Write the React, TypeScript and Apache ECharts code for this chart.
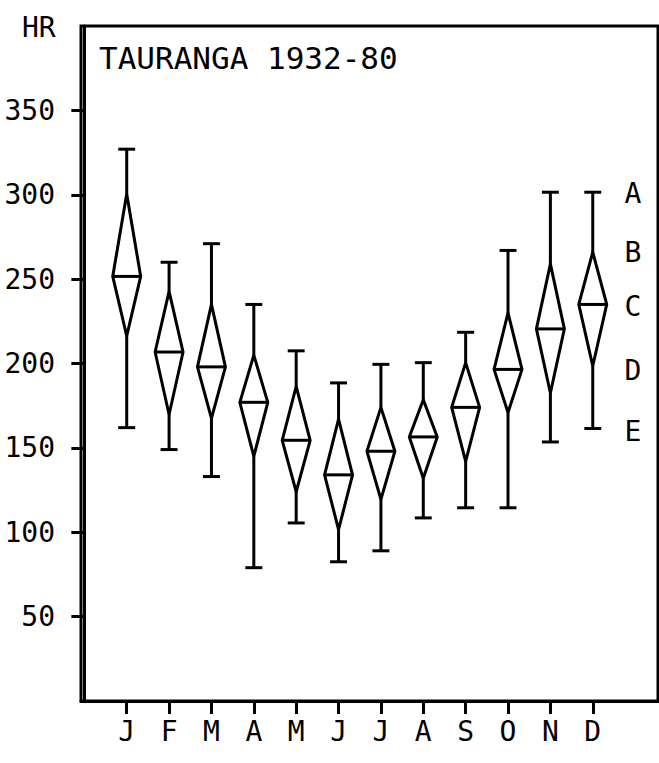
import React, { useEffect, useRef } from "react";
import * as echarts from "echarts";

// Months along the bottom
const MONTHS = ["J", "F", "M", "A", "M", "J", "J", "A", "S", "O", "N", "D"];
// Monthly sunshine hours
const MAX_VALUES = [327, 260, 271, 235, 207.5, 188.5, 199.5, 200.5, 218.5, 267, 301.5, 301.5];
const UPPER_VALUES = [300.5, 242.7, 235, 205, 186.5, 167, 174, 178.5, 200.5, 230, 259, 266];
const MEAN_VALUES = [251.6, 206.8, 198, 177, 154.5, 134, 148, 156.5, 174, 196.5, 220.5, 235];
const LOWER_VALUES = [216.3, 169.8, 167.5, 145, 124, 101.5, 119.5, 132, 142, 171, 182.5, 198.5];
const MIN_VALUES = [162, 149, 133, 79, 105.5, 82.5, 89, 108.5, 114.5, 114.5, 153.5, 161.5];
// Y tick labels
const Y_TICKS = [50, 100, 150, 200, 250, 300, 350];
// Right-hand letter scale
const RATING_LABELS = ["A", "B", "C", "D", "E"];
const RATING_LEVELS = [301, 266, 234, 196, 160];

const FONT = "'DejaVu Sans Mono', monospace";

export default function App() {
  const ref = useRef<HTMLDivElement>(null);

  useEffect(() => {
    if (!ref.current) return;
    const chart = echarts.init(ref.current, null, { renderer: "svg" });

    const data = MONTHS.map((_, i) => [
      i + 1,
      MAX_VALUES[i],
      UPPER_VALUES[i],
      MEAN_VALUES[i],
      LOWER_VALUES[i],
      MIN_VALUES[i],
    ]);

    const DIAMOND_HALF = 0.33;
    const CAP_HALF = 0.2;
    const lineStyle = { stroke: "#000", lineWidth: 3, fill: null, lineJoin: "round" };

    chart.setOption({
      animation: false,
      backgroundColor: "#fff",
      grid: {
        left: 81,
        top: 26,
        right: 1,
        bottom: 62,
        show: true,
        borderColor: "#000",
        borderWidth: 3,
        backgroundColor: "transparent",
      },
      xAxis: {
        type: "value",
        min: -0.079,
        max: 13.54,
        splitLine: { show: false },
        axisLine: { show: true, lineStyle: { color: "#000", width: 3 } },
        axisTick: {
          show: true,
          inside: false,
          length: 13,
          customValues: MONTHS.map((_, i) => i + 1),
          lineStyle: { color: "#000", width: 3 },
        },
        axisLabel: {
          show: true,
          customValues: MONTHS.map((_, i) => i + 1),
          formatter: (v: number) => MONTHS[Math.round(v) - 1] ?? "",
          color: "#000",
          fontFamily: FONT,
          fontSize: 28,
          margin: 16,
        },
      },
      yAxis: {
        type: "value",
        min: 0,
        max: 400,
        interval: 50,
        splitLine: { show: false },
        axisLine: { show: true, lineStyle: { color: "#000", width: 3 } },
        axisTick: {
          show: true,
          inside: false,
          length: 13,
          customValues: Y_TICKS,
          lineStyle: { color: "#000", width: 3 },
        },
        axisLabel: {
          show: true,
          customValues: Y_TICKS,
          color: "#000",
          fontFamily: FONT,
          fontSize: 28,
          margin: 26,
        },
      },
      graphic: [
        {
          type: "text",
          x: 22,
          y: 27,
          style: {
            text: "HR",
            font: `28px ${FONT}`,
            fill: "#000",
            textAlign: "left",
            textVerticalAlign: "middle",
            align: "left",
            verticalAlign: "middle",
          },
        },
        {
          type: "text",
          x: 99,
          y: 58,
          style: {
            text: "TAURANGA 1932-80",
            font: `31px ${FONT}`,
            fill: "#000",
            textAlign: "left",
            textVerticalAlign: "middle",
            align: "left",
            verticalAlign: "middle",
          },
        },
      ],
      series: [
        {
          type: "custom",
          data,
          encode: { x: 0, y: [1, 2, 3, 4, 5] },
          renderItem: (_params: any, api: any) => {
            const x = api.value(0);
            const pMax = api.coord([x, api.value(1)]);
            const pUp = api.coord([x, api.value(2)]);
            const pMean = api.coord([x, api.value(3)]);
            const pLow = api.coord([x, api.value(4)]);
            const pMin = api.coord([x, api.value(5)]);
            const hw = api.size([DIAMOND_HALF, 0])[0];
            const cw = api.size([CAP_HALF, 0])[0];
            const cx = pMean[0];
            return {
              type: "group",
              children: [
                {
                  type: "polygon",
                  shape: {
                    points: [
                      [cx, pUp[1]],
                      [cx + hw, pMean[1]],
                      [cx, pLow[1]],
                      [cx - hw, pMean[1]],
                    ],
                  },
                  style: lineStyle,
                },
                { type: "line", shape: { x1: cx - hw, y1: pMean[1], x2: cx + hw, y2: pMean[1] }, style: lineStyle },
                { type: "line", shape: { x1: cx, y1: pMax[1], x2: cx, y2: pUp[1] }, style: lineStyle },
                { type: "line", shape: { x1: cx, y1: pLow[1], x2: cx, y2: pMin[1] }, style: lineStyle },
                { type: "line", shape: { x1: cx - cw, y1: pMax[1], x2: cx + cw, y2: pMax[1] }, style: lineStyle },
                { type: "line", shape: { x1: cx - cw, y1: pMin[1], x2: cx + cw, y2: pMin[1] }, style: lineStyle },
              ],
            };
          },
        },
        {
          type: "scatter",
          symbolSize: 0,
          itemStyle: { opacity: 1, color: "#000" },
          data: RATING_LABELS.map((t, i) => ({ value: [12.95, RATING_LEVELS[i]], name: t })),
          label: {
            show: true,
            position: "inside",
            formatter: (p: any) => p.name,
            color: "#000",
            opacity: 1,
            fontFamily: FONT,
            fontSize: 28,
          },
          silent: true,
        },
      ],
    });

    return () => chart.dispose();
  }, []);

  return (
    <div
      ref={ref}
      style={{ position: "fixed", left: 0, top: 0, width: 659, height: 763, background: "#fff" }}
    />
  );
}
